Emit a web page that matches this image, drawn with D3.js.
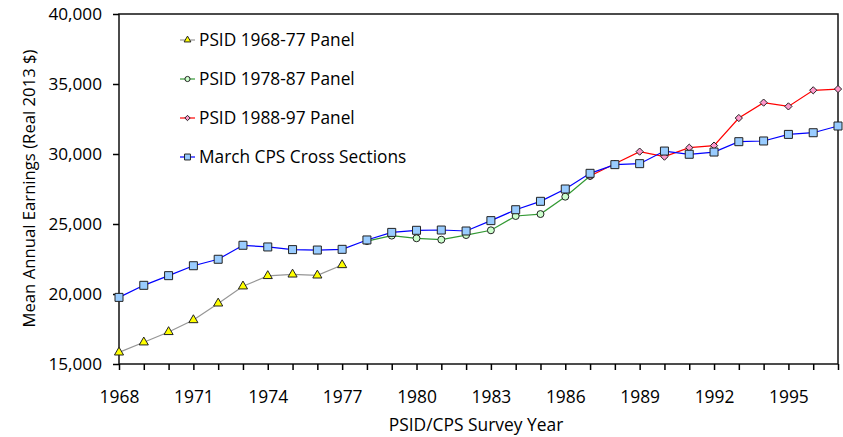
<!DOCTYPE html>
<html>
<head>
<meta charset="utf-8">
<script src="https://cdn.jsdelivr.net/npm/d3@7"></script>
<style>
  body { margin: 0; background: #fff; }
  text { font-family: "Open Sans", "Liberation Sans", sans-serif; fill: #000; }
</style>
</head>
<body>
<div id="chart"></div>
<script>
// data
var years1 = [1968,1969,1970,1971,1972,1973,1974,1975,1976,1977]
var psid6877 = [15830,16550,17290,18140,19330,20550,21290,21400,21330,22070]

var years2 = [1978,1979,1980,1981,1982,1983,1984,1985,1986,1987]
var psid7887 = [23780,24170,23980,23880,24210,24550,25570,25710,26950,28430]

var years3 = [1987,1988,1989,1990,1991,1992,1993,1994,1995,1996,1997]
var psid8897 = [28430,29300,30170,29810,30450,30600,32570,33670,33400,34550,34640]

var yearsCps = d3.range(1968, 1998)
var cps = [19760,20620,21310,22020,22480,23480,23360,23170,23140,23190,
           23860,24400,24550,24570,24500,25240,26020,26620,27500,28620,
           29240,29310,30210,29980,30140,30880,30930,31400,31520,32000]

var yTicks = [15000,20000,25000,30000,35000,40000]
var xLabels = [1968,1971,1974,1977,1980,1983,1986,1989,1992,1995]

// diamond drawn as a square turned 45 degrees, like the reference
var diamond = { draw: function(ctx, size){ var r = Math.sqrt(size / 2); ctx.moveTo(0, -r); ctx.lineTo(r, 0); ctx.lineTo(0, r); ctx.lineTo(-r, 0); ctx.closePath() } }

var series = [
  {name: 'PSID 1968-77 Panel', x: years1, y: psid6877, line: '#969696', fill: '#ffff00', shape: d3.symbolTriangle, size: 36},
  {name: 'PSID 1978-87 Panel', x: years2, y: psid7887, line: '#339933', fill: '#ccffcc', shape: d3.symbolCircle, size: 38},
  {name: 'PSID 1988-97 Panel', x: years3, y: psid8897, line: '#ff0000', fill: '#ff99cc', shape: diamond, size: 26},
  {name: 'March CPS Cross Sections', x: yearsCps, y: cps, line: '#0000ff', fill: '#99ccff', shape: d3.symbolSquare, size: 64}
]

var w = 843, h = 437
var svg = d3.select('#chart').append('svg').attr('width', w).attr('height', h)

var pl = 119, pr = 838, pt = 14, pb = 364

var x = d3.scaleLinear().domain([1968, 1997]).range([pl, pr])
var y = d3.scaleLinear().domain([15000, 40000]).range([pb, pt])

// frame
svg.append('rect').attr('x', pl).attr('y', pt).attr('width', pr-pl).attr('height', pb-pt)
  .attr('fill', 'none').attr('stroke', '#111').attr('stroke-width', 1.5)

var yAxis = svg.append('g').attr('transform', 'translate(' + pl + ',0)')
  .call(d3.axisLeft(y).tickValues(yTicks).tickFormat(d3.format(',')).tickSize(6).tickPadding(11))
yAxis.select('.domain').remove()
yAxis.selectAll('text').style('font-size', '17.2px').attr('dy', '0.34em')
yAxis.selectAll('line').attr('stroke-width', 1.5)

var xAxis = svg.append('g').attr('transform', 'translate(0,' + pb + ')')
  .call(d3.axisBottom(x).tickValues(d3.range(1968, 1998)).tickFormat(function(d){ return xLabels.indexOf(d) >= 0 ? d : '' }).tickSize(6).tickPadding(0))
xAxis.select('.domain').remove()
xAxis.selectAll('text').style('font-size', '17.4px').attr('dy', null).attr('y', 39)
xAxis.selectAll('line').attr('stroke-width', 1.5)

svg.append('text').attr('x', 476).attr('y', 431).attr('text-anchor', 'middle')
  .style('font-size', '17.4px').text('PSID/CPS Survey Year')
svg.append('text').attr('transform', 'translate(35,188.5) rotate(-90)')
  .attr('text-anchor', 'middle').style('font-size', '16.7px').text('Mean Annual Earnings (Real 2013 $)')

var line = d3.line().x(function(d){ return x(d[0]) }).y(function(d){ return y(d[1]) })

series.forEach(function(s){
  var pts = s.x.map(function(v, i){ return [v, s.y[i]] })
  svg.append('path').datum(pts).attr('d', line).attr('fill', 'none').attr('stroke', s.line).attr('stroke-width', 1.2)
  svg.selectAll(null).data(pts).enter().append('path')
    .attr('d', d3.symbol().type(s.shape).size(s.size))
    .attr('transform', function(d){ return 'translate(' + x(d[0]) + ',' + y(d[1]) + ')' })
    .attr('fill', s.fill).attr('stroke', '#222').attr('stroke-width', 1)
})

// legend
var lg = svg.append('g')
series.forEach(function(s, i){
  var ly = 40 + i * 39
  lg.append('line').attr('x1', 180).attr('x2', 195).attr('y1', ly).attr('y2', ly).attr('stroke', s.line).attr('stroke-width', 1.2)
  lg.append('path').attr('d', d3.symbol().type(s.shape).size(s.size * 0.55)).attr('transform', 'translate(187.5,' + ly + ')')
    .attr('fill', s.fill).attr('stroke', '#222').attr('stroke-width', 1)
  lg.append('text').attr('x', 199).attr('y', ly + 6).style('font-size', '17.3px').text(s.name)
})
</script>
</body>
</html>
